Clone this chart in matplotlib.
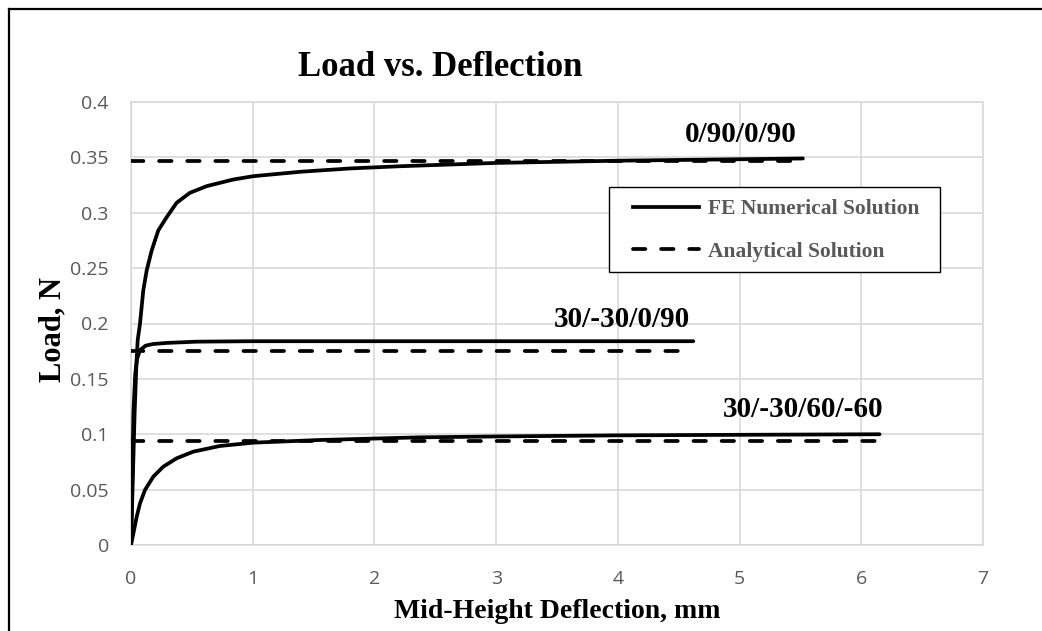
import matplotlib
matplotlib.use("Agg")
import matplotlib.pyplot as plt
from matplotlib.lines import Line2D
from matplotlib.patches import Rectangle

# ---- data ----
fe_a_x = [0, 0.015, 0.03, 0.045, 0.055, 0.074, 0.101, 0.129, 0.170, 0.224, 0.293, 0.375,
          0.484, 0.621, 0.840, 1.004, 1.39, 1.80, 2.21, 3.0, 4.0, 5.52]
fe_a_y = [0, 0.06, 0.12, 0.165, 0.185, 0.200, 0.230, 0.248, 0.266, 0.284, 0.296, 0.309,
          0.318, 0.324, 0.330, 0.333, 0.337, 0.340, 0.342, 0.345, 0.347, 0.349]

fe_b_x = [0, 0.01, 0.02, 0.035, 0.05, 0.074, 0.12, 0.183, 0.30, 0.54, 1.0, 2.0, 3.0, 4.62]
fe_b_y = [0, 0.06, 0.12, 0.155, 0.168, 0.176, 0.180, 0.1815, 0.1825, 0.1836, 0.184, 0.184, 0.184, 0.184]

fe_c_x = [0, 0.025, 0.047, 0.074, 0.115, 0.183, 0.265, 0.375, 0.512, 0.73, 1.004, 1.55,
          2.37, 3.0, 4.0, 5.0, 6.15]
fe_c_y = [0, 0.0135, 0.0256, 0.0376, 0.0497, 0.0617, 0.0707, 0.0783, 0.0843, 0.0894, 0.0924,
          0.0948, 0.0972, 0.098, 0.099, 0.0995, 0.100]

an_x_end = [5.52, 4.62, 6.15]
an_y = [0.347, 0.175, 0.094]

labels = ["0/90/0/90", "30/-30/0/90", "30/-30/60/-60"]
label_pos = [(5.01, 0.364), (4.03, 0.197), (5.52, 0.116)]

x_ticks = [0, 1, 2, 3, 4, 5, 6, 7]
y_ticks = [0, 0.05, 0.1, 0.15, 0.2, 0.25, 0.3, 0.35, 0.4]
y_ticklabels = ["0", "0.05", "0.1", "0.15", "0.2", "0.25", "0.3", "0.35", "0.4"]

W, H = 1042, 631
fig = plt.figure(figsize=(W / 100, H / 100), dpi=100)
ax = fig.add_axes([131 / W, 1 - 545 / H, (983 - 131) / W, (545 - 102) / H])

serif = ["Liberation Serif", "DejaVu Serif"]
tickfont = ["Open Sans", "DejaVu Sans"]
grid_c = "#d9d9d9"
lw = 2.7
dash = (3.3, 4.2)

for xs, ys in [(fe_a_x, fe_a_y), (fe_b_x, fe_b_y), (fe_c_x, fe_c_y)]:
    ax.plot(xs, ys, color="black", lw=lw, solid_capstyle="round",
            solid_joinstyle="round", zorder=3)
for xe, yv in zip(an_x_end, an_y):
    ax.plot([0, xe], [yv, yv], color="black", lw=lw, linestyle=(0, dash),
            dash_capstyle="round", zorder=3)

for lab, (lx, ly) in zip(labels, label_pos):
    ax.text(lx, ly, lab, ha="center", va="baseline", fontsize=21, fontweight="bold",
            family=serif, color="black")

ax.set_xlim(0, 7)
ax.set_ylim(0, 0.4)
ax.set_xticks(x_ticks)
ax.set_yticks(y_ticks)
ax.set_yticklabels(y_ticklabels)
ax.grid(True, color=grid_c, lw=1.2)
ax.set_axisbelow(True)
for s in ax.spines.values():
    s.set_color(grid_c)
    s.set_linewidth(1.2)
ax.tick_params(length=0, labelsize=14, labelcolor="#595959")
ax.tick_params(axis="y", pad=16)
ax.tick_params(axis="x", pad=18)
for t in ax.get_xticklabels() + ax.get_yticklabels():
    t.set_family(tickfont)

ax.set_xlabel("Mid-Height Deflection, mm", fontsize=20, fontweight="bold",
              family=serif, labelpad=8)
fig.text(53 / W, 1 - 330 / H, "Load, N", rotation=90, ha="center", va="center",
         fontsize=22, fontweight="bold", family=serif)

fig.text(440 / W, 1 - 67 / H, "Load vs. Deflection", ha="center", va="center",
         fontsize=25, fontweight="bold", family=serif)

# legend frame
fig.add_artist(Rectangle((609 / W, 1 - 272 / H), (940 - 609) / W, (272 - 187) / H,
                         transform=fig.transFigure, facecolor="white",
                         edgecolor="black", lw=1.0, zorder=4))
handles = [Line2D([], [], color="black", lw=lw),
           Line2D([], [], color="black", lw=lw, linestyle=(0, dash), dash_capstyle="round")]
leg = fig.legend(handles, ["FE Numerical Solution", "Analytical Solution"],
                 loc="upper left", bbox_to_anchor=(633 / W, 1 - 199 / H),
                 bbox_transform=fig.transFigure,
                 prop={"family": serif, "weight": "bold", "size": 15.5},
                 labelcolor="#595959", frameon=False, handlelength=3.05,
                 borderpad=0, labelspacing=1.05, handletextpad=0.45,
                 borderaxespad=0)
leg.set_zorder(6)

# figure border (left and top)
fig.add_artist(Line2D([9 / W, 9 / W], [0, 1 - 9 / H], transform=fig.transFigure,
                      color="black", lw=1.6))
fig.add_artist(Line2D([9 / W, 1], [1 - 9 / H, 1 - 9 / H], transform=fig.transFigure,
                      color="black", lw=1.6))

fig.savefig("out.png", dpi=100)
